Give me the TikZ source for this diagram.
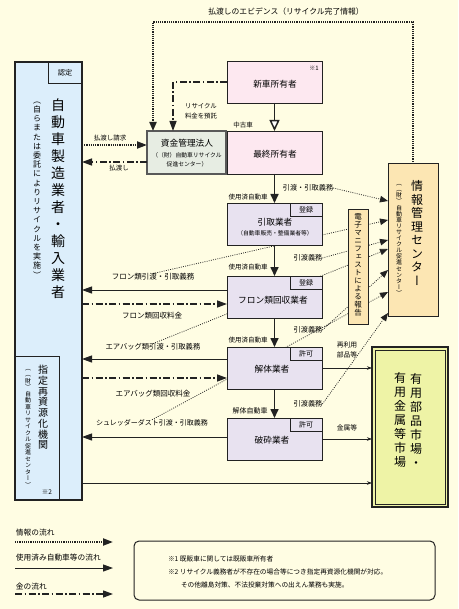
\documentclass[tikz,border=0pt]{standalone}
\usepackage{fontspec}
\setmainfont{Noto Sans CJK JP}
\newfontfamily\jpv[RawFeature=+vert]{Noto Sans CJK JP}
\usetikzlibrary{arrows.meta,calc}
\pgfdeclarelayer{back}
\pgfsetlayers{back,main}
\definecolor{bg}{HTML}{FFFDE3}
\definecolor{lblue}{HTML}{DCEEFB}
\definecolor{pinkb}{HTML}{FDE8F0}
\definecolor{lav}{HTML}{E8E2F0}
\definecolor{fundc}{HTML}{E7EDE3}
\definecolor{orangeb}{HTML}{FCE6B3}
\definecolor{mkt}{HTML}{EEF3A6}
\definecolor{ink}{HTML}{222222}
\makeatletter
\newcommand\vtxt[2]{\vbox{\baselineskip=#1\relax\lineskiplimit=-100pt\jpv\vt@loop#2\@nil}}
\def\vt@loop#1{\ifx#1\@nil\else\hbox to 1em{\hss#1\hss}\expandafter\vt@loop\fi}
\makeatother
\begin{document}
\begin{tikzpicture}[x=1pt,y=-1pt,
  font=\fontsize{7.2}{8}\selectfont,
  nbox/.style={draw=ink, line width=0.9pt, anchor=north west, inner sep=0pt, outer sep=0pt},
  tagbox/.style={draw=ink, line width=0.9pt, anchor=north east, minimum width=32pt, minimum height=13pt, inner sep=0pt, outer sep=0pt, font=\fontsize{7}{8}\selectfont},
  lbl/.style={inner sep=0pt, outer sep=0pt},
  btxt/.style={lbl, font=\fontsize{8.7}{10}\selectfont},
  stxt/.style={lbl, font=\fontsize{5.8}{7}\selectfont},
  flowarrow/.style={draw=ink, line width=1.6pt, -{Triangle[length=9pt,width=8pt]}},
  hollowarrow/.style={draw=ink, line width=1.5pt, -{Triangle[length=11pt,width=10pt,fill=white]}},
  goods/.style={draw=ink, line width=1pt, -{Triangle[length=10pt,width=7pt]}},
  money/.style={draw=ink, line width=1.3pt, dash pattern=on 7pt off 2.5pt on 1.5pt off 2.5pt, -{Triangle[length=10pt,width=7pt]}},
  infothin/.style={draw=ink, line width=0.75pt, dash pattern=on 0.9pt off 1.3pt, -{Triangle[length=8pt,width=6.5pt]}},
  infothick/.style={draw=ink, line width=2pt, dash pattern=on 1.2pt off 1pt},
  sale/.style={draw=ink, line width=0.6pt, -{Stealth[length=5pt,width=3.5pt]}},
]
\useasboundingbox (0,0) rectangle (458,609);
\begin{pgfonlayer}{back}
\fill[bg] (0,0) rectangle (458,609);
\end{pgfonlayer}

% y levels
\coordinate (r145) at (0,145);
\coordinate (r162) at (0,162);
\coordinate (r201) at (0,201);
\coordinate (r220) at (0,220);
\coordinate (r240) at (0,240);
\coordinate (r249) at (0,249);
\coordinate (r270) at (0,270);
\coordinate (r290) at (0,290);
\coordinate (r292) at (0,292);
\coordinate (r304) at (0,304);
\coordinate (r313) at (0,313);
\coordinate (r359) at (0,359);
\coordinate (r378) at (0,378);
\coordinate (r437) at (0,437);
\coordinate (r483) at (0,483);

% ===== maker box =====
\node[nbox, fill=lblue, line width=2pt, minimum width=67pt, minimum height=438pt] (maker) at (15,62) {};
\node[lbl, anchor=north east, minimum width=34pt, minimum height=21pt] (nintei) at (maker.north east) {認定};
\draw[line width=0.8pt, ink] (nintei.north west) |- (nintei.south east);
\node[lbl] (makerT) at (58,198.5) {\fontsize{14}{14}\selectfont\vtxt{17pt}{自動車製造業者・輸入業者}};
\node[lbl] (makerP) at (37,190) {\fontsize{8}{8}\selectfont\vtxt{9.2pt}{（自らまたは委託によりリサイクルを実施）}};
\node[lbl, anchor=north west, minimum width=44pt, minimum height=144pt] (shitei) at (15,356) {};
\draw[line width=0.8pt, ink] (shitei.north west) -| (shitei.south east);
\node[lbl] (shiteiT) at (43,407.5) {\fontsize{10}{10}\selectfont\vtxt{10.7pt}{指定再資源化機関}};
\node[lbl] (shiteiP) at (28,428) {\fontsize{6}{6}\selectfont\vtxt{6.5pt}{（（財）自動車リサイクル促進センター）}};
\node[lbl, font=\fontsize{6.5}{7}\selectfont] (kome2) at (47,492) {※2};

% ===== owners / fund =====
\node[nbox, fill=pinkb, minimum width=95pt, minimum height=42pt] (newown) at (227,61) {};
\node[btxt] (newownT) at (275,84) {新車所有者};
\node[lbl, font=\fontsize{6}{7}\selectfont] (kome1) at (314,68) {※1};
\node[nbox, fill=pinkb, minimum width=95pt, minimum height=43pt] (lastown) at (227,131) {};
\node[btxt] (lastownT) at (275,154) {最終所有者};
\node[nbox, fill=fundc, draw=gray!70!black, line width=1.3pt, minimum width=79pt, minimum height=43pt] (fund) at (147,131) {};
\node[btxt] (fundT) at (187,143) {資金管理法人};
\node[stxt] (fundS1) at (187,155) {（（財）自動車リサイクル};
\node[stxt] (fundS2) at (187,164) {促進センター）};

% ===== recycling chain =====
\node[nbox, fill=lav, minimum width=95pt, minimum height=42pt] (hikitori) at (227,203) {};
\node[tagbox, fill=lav] (tag1) at (hikitori.north east) {登録};
\node[btxt] (hikitoriT) at (275,222) {引取業者};
\node[stxt] (hikitoriS) at (275,233) {（自動車販売・整備業者等）};

\node[nbox, fill=lav, minimum width=95pt, minimum height=42pt] (freon) at (227,276) {};
\node[tagbox, fill=lav] (tag2) at (freon.north east) {登録};
\node[btxt] (freonT) at (273,300) {フロン類回収業者};

\node[nbox, fill=lav, minimum width=95pt, minimum height=42pt] (kaitai) at (227,347) {};
\node[tagbox, fill=lav] (tag3) at (kaitai.north east) {許可};
\node[btxt] (kaitaiT) at (272,369) {解体業者};

\node[nbox, fill=lav, minimum width=95pt, minimum height=42pt] (hasai) at (227,418) {};
\node[tagbox, fill=lav] (tag4) at (hasai.north east) {許可};
\node[btxt] (hasaiT) at (272,440) {破砕業者};

% ===== info centre, manifest =====
\node[nbox, fill=orangeb, line width=1pt, minimum width=50pt, minimum height=152pt] (info) at (388,164) {};
\node[lbl] (infoT) at (417,233) {\fontsize{12}{12}\selectfont\vtxt{13.5pt}{情報管理センター}};
\node[lbl] (infoS) at (399,240) {\fontsize{6}{6}\selectfont\vtxt{6.1pt}{（（財）自動車リサイクル促進センター）}};
\node[nbox, fill=orangeb, minimum width=20pt, minimum height=115pt] (denshi) at (348,209) {};
\node[lbl] (denshiT) at (358,265) {\fontsize{7.5}{7.5}\selectfont\vtxt{8pt}{電子マニフェストによる報告}};

% ===== market =====
\node[nbox, fill=mkt, line width=1.2pt, minimum width=76pt, minimum height=160pt] (market) at (372,347) {};
\draw[line width=1pt, ink] ($(market.north west)+(3,3)$) rectangle ($(market.south east)+(-3,-3)$);
\node[lbl] (marketR) at (416,420) {\fontsize{12}{12}\selectfont\vtxt{14pt}{有用部品市場・}};
\node[lbl] (marketL) at (400,420) {\fontsize{12}{12}\selectfont\vtxt{14pt}{有用金属等市場}};

% ===== labels =====
\node[lbl, font=\fontsize{7.8}{9}\selectfont] (evid) at (286,12) {払渡しのエビデンス（リサイクル完了情報）};
\node[lbl, align=center, font=\fontsize{6.4}{10}\selectfont] (feeL) at (201,111) {リサイクル\\料金を預託};
\node[lbl, font=\fontsize{6.5}{7}\selectfont] (reqL) at (110,138) {払渡し請求};
\node[lbl, font=\fontsize{6.5}{7}\selectfont] (payL) at (119,168) {払渡し};
\node[lbl, font=\fontsize{6.5}{7}\selectfont] (usedL) at (243,125) {中古車};
\node[lbl, font=\fontsize{6.5}{7}\selectfont] (elv1) at (248,197) {使用済自動車};
\node[lbl, font=\fontsize{6.5}{7}\selectfont] (elv2) at (248,267) {使用済自動車};
\node[lbl, font=\fontsize{6.5}{7}\selectfont] (elv3) at (248,340) {使用済自動車};
\node[lbl, font=\fontsize{7}{8}\selectfont] (elv4) at (250,411) {解体自動車};
\node[lbl] (hk0) at (308,188) {引渡・引取義務};
\node[lbl] (hk1) at (308,258) {引渡義務};
\node[lbl] (hk2) at (308,330) {引渡義務};
\node[lbl] (hk3) at (308,404) {引渡義務};
\node[lbl, align=center, font=\fontsize{6.8}{10.5}\selectfont] (reuseL) at (347,350) {再利用\\部品等};
\node[lbl, font=\fontsize{6.8}{8}\selectfont] (metalL) at (347,428) {金属等};
\node[lbl, font=\fontsize{7.5}{8}\selectfont] (flL) at (153,277) {フロン類引渡・引取義務};
\node[lbl, font=\fontsize{7.5}{8}\selectfont] (flM) at (152,316) {フロン類回収料金};
\node[lbl, font=\fontsize{7.3}{8}\selectfont] (abL) at (153,347) {エアバッグ類引渡・引取義務};
\node[lbl, font=\fontsize{7.5}{8}\selectfont] (abM) at (153,394) {エアバッグ類回収料金};
\node[lbl, font=\fontsize{7}{8}\selectfont] (sdL) at (152,423) {シュレッダーダスト引渡・引取義務};

% ===== connectors =====
\coordinate (topR) at (413,22);
\coordinate (topL) at (153,22);
\draw[infothick, -{Triangle[length=9pt,width=7pt]}] (info.north) -- (topR) -- (topL) -- (topL |- fund.north);
\coordinate (feeC) at (173,82);
\draw[money] (newown.west) -- (feeC) -- (feeC |- fund.north);
\draw[infothick, -{Triangle[length=10pt,width=7pt]}] (maker.east |- r145) -- (fund.west |- r145);
\draw[money] (fund.west |- r162) -- (maker.east |- r162);

\draw[hollowarrow] (newown.south) -- (lastown.north);
\draw[flowarrow] (lastown.south) -- (hikitori.north);
\draw[flowarrow] (hikitori.south) -- (freon.north);
\draw[flowarrow] (freon.south) -- (kaitai.north);
\draw[flowarrow] (kaitai.south) -- (hasai.north);

\draw[goods] (freon.west |- r290) -- (maker.east |- r290);
\draw[money] (maker.east |- r304) -- (freon.west |- r304);
\draw[goods] (kaitai.west |- r359) -- (maker.east |- r359);
\draw[money] (maker.east |- r378) -- (kaitai.west |- r378);
\draw[goods] (hasai.west |- r437) -- (maker.east |- r437);

\draw[sale] (kaitai.east) -- (market.west |- kaitai.east);
\draw[sale] (hasai.east) -- (market.west |- hasai.east);
\draw[sale] (maker.east |- r483) -- (market.west |- r483);

\begin{pgfonlayer}{back}
\draw[infothin] (hk0.east) -- (info.west |- r201);
\draw[infothin] (flL.north) -- (info.west |- r220);
\draw[infothin] (hk1.east) -- (info.west |- r240);
\draw[infothin] (abL.north) -- (info.west |- r249);
\draw[infothin] (hk2.east) -- (info.west |- r270);
\draw[infothin] (sdL.north) -- (info.west |- r292);
\draw[infothin] (hk3.east) -- (info.west |- r313);
\end{pgfonlayer}

% ===== legend =====
\node[lbl, anchor=west, font=\fontsize{7.7}{8}\selectfont] (lgA) at (16,533) {情報の流れ};
\coordinate (lgA1) at (15,542);
\coordinate (lgA2) at (113,542);
\draw[infothick, -{Triangle[length=10pt,width=7pt]}] (lgA1) -- (lgA2);
\node[lbl, anchor=west, font=\fontsize{7.7}{8}\selectfont] (lgB) at (16,558) {使用済み自動車等の流れ};
\coordinate (lgB1) at (15,568);
\coordinate (lgB2) at (113,568);
\draw[goods] (lgB1) -- (lgB2);
\node[lbl, anchor=west, font=\fontsize{7.7}{8}\selectfont] (lgC) at (16,587) {金の流れ};
\coordinate (lgC1) at (15,594);
\coordinate (lgC2) at (113,594);
\draw[money] (lgC1) -- (lgC2);

% ===== notes =====
\node[draw=ink, line width=1pt, rounded corners=5pt, anchor=north west, minimum width=301pt, minimum height=59pt, inner sep=0pt, outer sep=0pt] (notes) at (134,541) {};
\node[lbl, anchor=west, font=\fontsize{6.7}{8}\selectfont] (n1) at (168,559) {※1 既販車に関しては既販車所有者};
\node[lbl, anchor=west, font=\fontsize{6.7}{8}\selectfont] (n2) at (168,572) {※2 リサイクル義務者が不存在の場合等につき指定再資源化機関が対応。};
\node[lbl, anchor=west, font=\fontsize{6.7}{8}\selectfont] (n3) at (181,585) {その他離島対策、不法投棄対策への出えん業務も実施。};
\end{tikzpicture}
\end{document}
